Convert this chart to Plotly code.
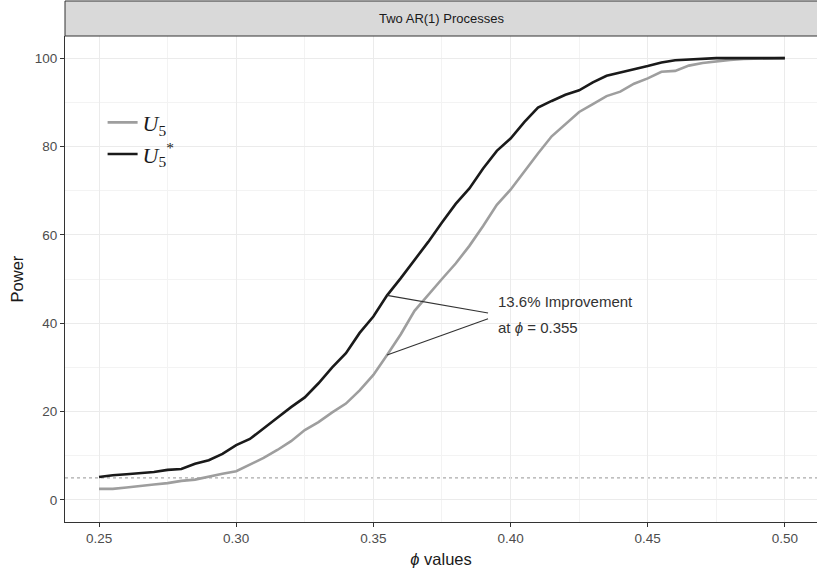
import plotly.graph_objects as go

phi = [round(0.25 + 0.005 * i, 3) for i in range(51)]

u5 = [2.5, 2.5, 2.8, 3.2, 3.5, 3.8, 4.3, 4.6, 5.3, 5.9,
      6.5, 8.0, 9.5, 11.3, 13.3, 15.8, 17.6, 19.8, 21.8, 24.8,
      28.3, 32.8, 37.5, 42.8, 46.5, 50.0, 53.5, 57.5, 62.0, 66.8,
      70.2, 74.4, 78.4, 82.3, 85.0, 87.8, 89.6, 91.4, 92.4, 94.2,
      95.4, 96.9, 97.1, 98.3, 98.9, 99.3, 99.6, 99.8, 99.9, 100.0,
      100.0]

u5_star = [5.2, 5.6, 5.8, 6.0, 6.3, 6.8, 7.0, 8.2, 9.0, 10.4,
           12.4, 13.8, 16.3, 18.6, 21.0, 23.2, 26.4, 30.0, 33.2, 37.8,
           41.5, 46.3, 50.2, 54.2, 58.4, 62.8, 67.0, 70.5, 75.0, 79.0,
           81.8, 85.5, 88.8, 90.3, 91.7, 92.7, 94.5, 96.0, 96.8, 97.5,
           98.2, 99.0, 99.5, 99.7, 99.9, 100.0, 100.0, 100.0, 100.0, 100.0,
           100.0]

x_ticks = [0.25, 0.30, 0.35, 0.40, 0.45, 0.50]
x_tick_labels = ["0.25", "0.30", "0.35", "0.40", "0.45", "0.50"]
y_ticks = [0, 20, 40, 60, 80, 100]

ref_level = 5
annot_phi = 0.355
annot_text_x = 0.3918
annot_text_y = [42.3, 41.0]

fig = go.Figure()

fig.add_trace(go.Scatter(
    x=phi, y=u5, mode="lines", name="<i>U</i><sub>5</sub>",
    line=dict(color="#9E9E9E", width=2.6)))
fig.add_trace(go.Scatter(
    x=phi, y=u5_star, mode="lines", name="<i>U</i><sub>5</sub><sup>*</sup>",
    line=dict(color="#1A1A1A", width=2.6)))

# reference dotted line
fig.add_hline(y=ref_level, line=dict(color="#AAAAAA", width=1.2, dash="dot"), layer="below")

# annotation segments
idx = phi.index(annot_phi)
fig.add_trace(go.Scatter(
    x=[annot_phi, annot_text_x], y=[u5_star[idx], annot_text_y[0]], mode="lines",
    line=dict(color="#333333", width=1.2), showlegend=False, hoverinfo="skip"))
fig.add_trace(go.Scatter(
    x=[annot_phi, annot_text_x], y=[u5[idx], annot_text_y[1]], mode="lines",
    line=dict(color="#333333", width=1.2), showlegend=False, hoverinfo="skip"))

fig.add_annotation(
    x=annot_text_x + 0.003, y=44.8, xref="x", yref="y",
    text="13.6% Improvement", showarrow=False, xanchor="left", yanchor="middle",
    font=dict(family="Liberation Sans, Arial", size=15, color="#333333"))
fig.add_annotation(
    x=annot_text_x + 0.003, y=39.1, xref="x", yref="y",
    text="at <i>ϕ</i> = 0.355", showarrow=False, xanchor="left", yanchor="middle",
    font=dict(family="Liberation Sans, Arial", size=15, color="#333333"))

# facet strip
strip_h = 35 / 486
fig.add_shape(type="rect", xref="paper", yref="paper", x0=0, x1=1.002, y0=1.0, y1=1 + strip_h,
              fillcolor="#D9D9D9", line=dict(color="#333333", width=1))
fig.add_annotation(x=0.5, y=1 + strip_h / 2, xref="paper", yref="paper",
                   text="Two AR(1) Processes", showarrow=False,
                   font=dict(family="Liberation Sans, Arial", size=13, color="#1A1A1A"),
                   xanchor="center", yanchor="middle")

fig.update_layout(
    width=817, height=568,
    margin=dict(l=65, r=0, t=36, b=46),
    paper_bgcolor="white", plot_bgcolor="white",
    font=dict(family="Liberation Sans, Arial"),
    legend=dict(x=0.05, y=0.865, xanchor="left", yanchor="top",
                bgcolor="rgba(0,0,0,0)",
                font=dict(family="Liberation Serif, Times New Roman", size=22, color="#1A1A1A"),
                itemwidth=30, tracegroupgap=4),
    showlegend=True,
)

fig.update_xaxes(
    range=[0.2376, 0.5117], tickvals=x_ticks, ticktext=x_tick_labels,
    showgrid=True, gridcolor="#EBEBEB", gridwidth=1.1,
    minor=dict(tickvals=[0.275, 0.325, 0.375, 0.425, 0.475], showgrid=True, gridcolor="#F3F3F3", gridwidth=0.6),
    showline=True, linecolor="#333333", linewidth=1, zeroline=False,
    ticks="outside", ticklen=4, tickcolor="#333333",
    tickfont=dict(size=13.5, color="#4D4D4D"),
    title=dict(text="<i>ϕ</i> values", font=dict(size=16.5, color="#1A1A1A"), standoff=8),
)
fig.update_yaxes(
    range=[-5, 105], tickvals=y_ticks,
    showgrid=True, gridcolor="#EBEBEB", gridwidth=1.1,
    minor=dict(tickvals=[10, 30, 50, 70, 90], showgrid=True, gridcolor="#F3F3F3", gridwidth=0.6),
    showline=True, linecolor="#333333", linewidth=1, zeroline=False,
    ticks="outside", ticklen=4, tickcolor="#333333",
    tickfont=dict(size=13.5, color="#4D4D4D"),
    title=dict(text="Power", font=dict(size=16.5, color="#1A1A1A"), standoff=6),
)

fig.write_html("out.html")
